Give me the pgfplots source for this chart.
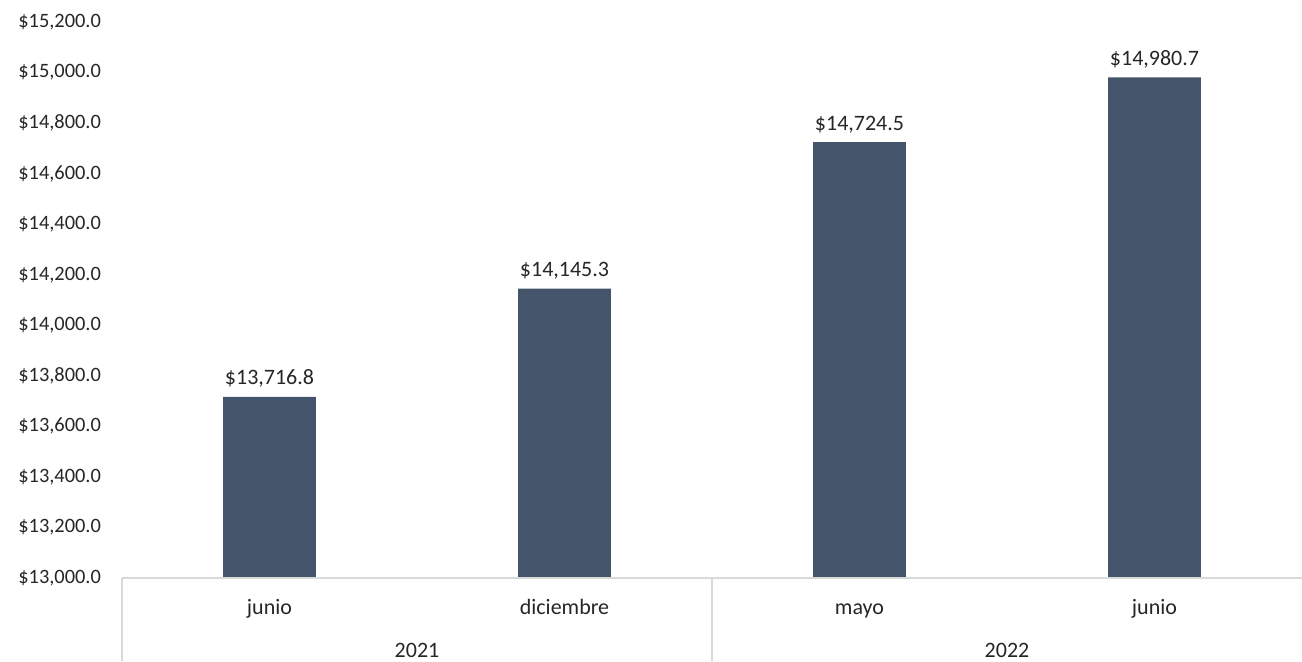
\documentclass[border=0pt]{standalone}
\usepackage{fontspec}
\setmainfont{Carlito}
\usepackage{pgfplots}
\pgfplotsset{compat=1.18}
\definecolor{barcol}{HTML}{44546A}
\definecolor{sepcol}{HTML}{D9D9D9}

\begin{document}
\begin{tikzpicture}[x=1pt,y=1pt]
% bounding box in px/2
\useasboundingbox (-61,-41.5) rectangle (590,289);
\begin{axis}[
    at={(0,0)}, anchor=south west,
    scale only axis,
    width=590pt, height=278pt,
    ymin=13000, ymax=15200,
    ytick={13000,13200,...,15200},
    scaled y ticks=false,
    xmin=-0.5, xmax=3.5,
    xtick=\empty,
    axis line style={draw=none},
    major tick length=0pt,
    yticklabel style={font=\fontsize{10.2}{12}\selectfont, text=black!85, xshift=-7pt},
    yticklabel={\$\pgfmathprintnumber{\tick}},
    /pgf/number format/.cd, fixed, fixed zerofill, precision=1, 1000 sep={,}, assume math mode=true,
    /pgfplots/.cd,
    clip=false,
    ]
  \addplot[ybar, bar width=0.315, fill=barcol, draw=none,
    nodes near coords, point meta=explicit symbolic,
    every node near coord/.append style={font=\fontsize{11}{13}\selectfont, text=black!85, yshift=1pt}]
    table[meta=lab] {
      x y lab
      0 13716.8 \$13,716.8
      1 14145.3 \$14,145.3
      2 14724.5 \$14,724.5
      3 14980.7 \$14,980.7
    };
  \draw[sepcol, line width=0.8pt] (axis cs:-0.5,13000) -- (axis cs:3.5,13000);
  \draw[sepcol, line width=0.8pt] (axis cs:-0.5,13000) -- ++(0pt,-41.5pt);
  \draw[sepcol, line width=0.8pt] (axis cs:1.5,13000) -- ++(0pt,-41.5pt);
  \path[font=\fontsize{11}{13}\selectfont, text=black!85, every node/.style={anchor=base, inner sep=0pt}]
    (axis cs:0,13000) ++(0pt,-18pt) node {junio}
    (axis cs:1,13000) ++(0pt,-18pt) node {diciembre}
    (axis cs:2,13000) ++(0pt,-18pt) node {mayo}
    (axis cs:3,13000) ++(0pt,-18pt) node {junio}
    (axis cs:0.5,13000) ++(0pt,-39.5pt) node {2021}
    (axis cs:2.5,13000) ++(0pt,-39.5pt) node {2022};
\end{axis}
\end{tikzpicture}
\end{document}
